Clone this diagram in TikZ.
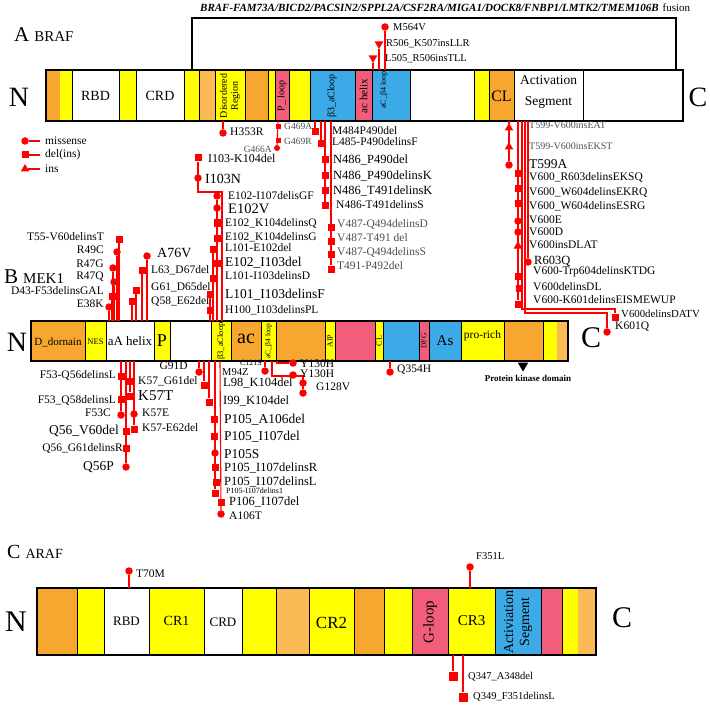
\documentclass[tikz,border=0pt]{standalone}
\usepackage{fontspec}
\setmainfont{Liberation Serif}
\usetikzlibrary{shapes.geometric}
\definecolor{cOr}{RGB}{247,166,48}
\definecolor{cOl}{RGB}{251,186,86}
\definecolor{cYe}{RGB}{255,255,0}
\definecolor{cPk}{RGB}{241,93,122}
\definecolor{cBl}{RGB}{60,170,230}
\definecolor{cRd}{RGB}{255,0,0}
\definecolor{cGr}{RGB}{70,80,80}
\begin{document}
\begin{tikzpicture}[x=1pt,y=-1pt,
 stemline/.style={draw=cRd,line width=1.1pt},
 mkc/.style={circle,fill=cRd,inner sep=0pt,minimum size=7.5pt},
 mks/.style={rectangle,fill=cRd,inner sep=0pt,minimum size=7pt},
 mkss/.style={rectangle,fill=cRd,inner sep=0pt,minimum size=5pt},
 mkt/.style={regular polygon,regular polygon sides=3,fill=cRd,inner sep=0pt,minimum size=10pt},
 mkv/.style={mkt,shape border rotate=180},
 divl/.style={draw=black,line width=0.6pt},
 barl/.style={draw=black,line width=1.3pt},
 lab/.style={inner sep=0pt,anchor=west,font=\fontsize{11.5}{12}\selectfont},
 labB/.style={lab,font=\fontsize{13.5}{14}\selectfont},
 labM/.style={lab,font=\fontsize{12.5}{13}\selectfont},
 labS/.style={lab,font=\fontsize{9.5}{10}\selectfont},
 labT/.style={lab,font=\fontsize{8}{9}\selectfont},
 labE/.style={anchor=east},
 dom/.style={inner sep=0pt,font=\fontsize{13}{14}\selectfont},
 rdom/.style={inner sep=0pt,rotate=90,align=center,font=\fontsize{9.5}{10.5}\selectfont},
 bigl/.style={inner sep=0pt,font=\fontsize{28}{28}\selectfont}
]
\useasboundingbox (0,0) rectangle (709,711);

% ================= A BRAF =================
\node[anchor=west,inner sep=0pt] (hA) at (14,35) {\fontsize{21}{21}\selectfont A\hspace{5pt}\fontsize{15}{15}\selectfont BRAF};
\node[anchor=west,inner sep=0pt,font=\fontsize{11}{12}\selectfont] (title) at (200,8) {\textbf{\textit{BRAF-FAM73A/BICD2/PACSIN2/SPPL2A/CSF2RA/MIGA1/DOCK8/FNBP1/LMTK2/TMEM106B}}\hspace{4pt}fusion};
\draw[barl] (192,70) -- (192,18) -- (676,18) -- (676,70);

\foreach \a/\b/\c in {46/60/cOr,60/72/cYe,72/119/white,119/136/cYe,136/184/white,184/199/cYe,199/215/cOl,215/245/cYe,245/268/cOr,268/275/cYe,275/289/cPk,289/310/cYe,310/355/cBl,355/372/cPk,372/410/cBl,410/474/white,474/489/cYe,489/514/cOr,514/583/white,583/683/white}
  \fill[\c] (\a,70) rectangle (\b,121);
\foreach \a in {72,119,136,184,199,215,245,268,275,289,310,355,372,410,474,489,514,583}
  \draw[divl] (\a,70) -- (\a,121);
\draw[barl] (46,70) rectangle (683,121);

\node[bigl] (bN) at (19,97) {N};
\node[bigl] (bC) at (698,97) {C};
\node[dom,font=\fontsize{14}{14}\selectfont] (bRBD) at (95.5,96) {RBD};
\node[dom,font=\fontsize{14}{14}\selectfont] (bCRD) at (160,96) {CRD};
\node[rdom,font=\fontsize{10}{11}\selectfont] (bDis) at (230,96) {Disordered\\Region};
\node[rdom,font=\fontsize{10}{11}\selectfont] (bPl) at (282,96) {P\_ loop};
\node[rdom,font=\fontsize{10}{11}\selectfont] (bB3) at (332,96) {β3\_aCloop};
\node[rdom,font=\fontsize{11}{12}\selectfont] (bAch) at (363.5,96) {ac helix};
\node[rdom,font=\fontsize{8}{9}\selectfont] (bAcb) at (384,90) {aC\_β4 loop};
\node[dom,font=\fontsize{16}{16}\selectfont] (bCL) at (501.5,96) {CL};
\node[dom,align=center,font=\fontsize{13.5}{21}\selectfont] (bAS) at (548.5,92) {Activation\\Segment};

% mutations above BRAF (fusion)
\node[mkc] (m564) at (385,27) {};
\node[mkv] (r506) at (379,44) {};
\node[mkv] (l505) at (373,58) {};
\draw[stemline] (385,70) -- (m564);
\draw[stemline] (379,70) -- (r506);
\draw[stemline] (373,70) -- (l505);
\node[lab,font=\fontsize{10.5}{11}\selectfont] (tm564) at (393,27) {M564V};
\node[lab,font=\fontsize{10.5}{11}\selectfont] (tr506) at (386,44) {R506\_K507insLLR};
\node[lab,font=\fontsize{10.5}{11}\selectfont] (tl505) at (385,59) {L505\_R506insTLL};

% legend
\node[mkc] (lg1) at (25,141) {};
\node[mks] (lg2) at (25,155) {};
\node[mkt] (lg3) at (25,169) {};
\coordinate (lg1e) at (40,141);
\coordinate (lg2e) at (40,155);
\coordinate (lg3e) at (40,169);
\draw[stemline] (lg1) -- (lg1e);
\draw[stemline] (lg2) -- (lg2e);
\draw[stemline] (lg3) -- (lg3e);
\node[lab] (tlg1) at (45,141) {missense};
\node[lab] (tlg2) at (45,155) {del(ins)};
\node[lab] (tlg3) at (45,169) {ins};

% below BRAF
\node[mkc] (h353) at (223,133) {};
\draw[stemline] (223,121) -- (h353);
\node[lab] (th353) at (230,132) {H353R};

\node[mkss] (g469a) at (278,127) {};
\node[mkss] (g469r) at (278,141) {};
\node[mkc,minimum size=6pt] (g466a) at (277,148) {};
\draw[stemline] (278,121) -- (g466a);
\node[labS,text=cGr] (tg469a) at (284,126) {G469A};
\node[labS,text=cGr] (tg469r) at (284,141) {G469R};
\node[labS,labE,text=cGr] (tg466a) at (272,149) {G466A};

\node[mks] (m484) at (315,132) {};
\draw[stemline] (315,121) -- (m484);
\node[lab] (tm484) at (332,131) {M484P490del};
\node[mks] (l485) at (321,144) {};
\draw[stemline] (321,121) -- (l485);
\node[lab] (tl485) at (332,142) {L485-P490delinsF};

\node[mks] (n486a) at (325,160) {};
\node[mks] (n486b) at (325,176) {};
\node[mks] (n486c) at (325,191) {};
\node[mks] (n486d) at (325,206) {};
\draw[stemline] (325,121) -- (n486d);
\node[labM] (tn486a) at (333,160) {N486\_P490del};
\node[labM] (tn486b) at (333,176) {N486\_P490delinsK};
\node[labM] (tn486c) at (333,191) {N486\_T491delinsK};
\node[lab] (tn486d) at (336,205) {N486-T491delinsS};

\node[mks] (v487a) at (331,227) {};
\node[mks] (v487b) at (331,241) {};
\node[mks] (v487c) at (331,254) {};
\node[mks] (t491) at (331,269) {};
\draw[stemline] (331,121) -- (t491);
\node[lab,text=cGr] (tv487a) at (337,224) {V487-Q494delinsD};
\node[lab,text=cGr] (tv487b) at (337,238) {V487-T491 del};
\node[lab,text=cGr] (tv487c) at (337,252) {V487-Q494delinsS};
\node[lab,text=cGr] (tt491) at (337,266) {T491-P492del};

% V600 region
\node[mkt] (t599a) at (509,128) {};
\node[mkt] (t599b) at (509,147) {};
\node[mkc] (t599c) at (509,165) {};
\draw[stemline] (509,121) -- (t599c);
\node[labS,font=\fontsize{10}{11}\selectfont,text=cGr] (tt599a) at (529,125) {T599-V600insEAT};
\node[labS,font=\fontsize{10}{11}\selectfont,text=cGr] (tt599b) at (529,146) {T599-V600insEKST};
\node[labB] (tt599c) at (529,164) {T599A};

\node[mks] (v1) at (518,174) {};
\node[mks] (v2) at (518,189) {};
\node[mks] (v3) at (518,204) {};
\node[mkc] (v4) at (518,221) {};
\node[mkc] (v5) at (518,232) {};
\node[mkt] (v6) at (518,246) {};
\node[mks] (v7) at (518,276) {};
\node[mks] (v8) at (519,288) {};
\node[mks] (v9) at (518,304) {};
\draw[stemline] (518,121) -- (v9);
\node[lab] (tv1) at (529,177) {V600\_R603delinsEKSQ};
\node[lab] (tv2) at (529,192) {V600\_W604delinsEKRQ};
\node[lab] (tv3) at (529,206) {V600\_W604delinsESRG};
\node[lab] (tv4) at (529,220) {V600E};
\node[lab] (tv5) at (529,232) {V600D};
\node[lab] (tv6) at (529,245) {V600insDLAT};
\node[lab] (tv7) at (533,272) {V600-Trp604delinsKTDG};
\node[lab] (tv8) at (533,287) {V600delinsDL};
\node[lab] (tv9) at (533,300) {V600-K601delinsEISMEWUP};

\node[mkc] (r603) at (528,262) {};
\draw[stemline] (528,121) -- (r603);
\node[labM] (tr603) at (534,261) {R603Q};

\node[mks] (datv) at (615,317) {};
\draw[stemline] (522,121) -- (522,309) -- (615,309) -- (datv);
\node[lab,font=\fontsize{10.8}{11}\selectfont] (tdatv) at (621,314) {V600delinsDATV};
\node[mkc] (k601) at (607,332) {};
\draw[stemline] (525,121) -- (525,313) -- (607,313) -- (k601);
\node[lab] (tk601) at (615,327) {K601Q};

% ================= B MEK1 =================
\node[anchor=west,inner sep=0pt] (hB) at (4,277) {\fontsize{21}{21}\selectfont B\hspace{5pt}\fontsize{15}{15}\selectfont MEK1};

\foreach \a/\b/\c in {31/85/cOr,85/106/cYe,106/154/white,154/170/cYe,170/211/white,211/231/cYe,231/261/cOr,261/276/cYe,276/325/cOr,325/335/cYe,335/375/cPk,375/383/cYe,383/419/cBl,419/429/cPk,429/461/cBl,461/504/cYe,504/543/cOr,543/557/cYe,557/568/cOl}
  \fill[\c] (\a,321) rectangle (\b,361);
\foreach \a in {85,106,154,170,211,231,261,276,325,335,375,383,419,429,461,504,543}
  \draw[divl] (\a,321) -- (\a,361);
\draw[barl] (31,321) rectangle (568,361);

\node[bigl] (mN) at (17,342) {N};
\node[bigl,font=\fontsize{30}{30}\selectfont] (mC) at (591,338) {C};
\node[dom,font=\fontsize{11}{12}\selectfont] (mDd) at (58,342) {D\_dornain};
\node[dom,font=\fontsize{8.5}{9}\selectfont] (mNES) at (95.5,342) {NES};
\node[dom,font=\fontsize{13}{14}\selectfont] (mAh) at (130,341) {aA helix};
\node[dom,font=\fontsize{18}{18}\selectfont] (mP) at (162,341) {P};
\node[rdom,font=\fontsize{8.5}{9}\selectfont] (mB3) at (221,341) {β3\_aCloop};
\node[dom,font=\fontsize{20}{20}\selectfont] (mAc) at (246,339) {ac};
\node[rdom,font=\fontsize{7.5}{8}\selectfont] (mAcb) at (268.5,341) {aC\_β4 loop};
\node[rdom,font=\fontsize{8}{9}\selectfont] (mAIP) at (330,341) {AIP};
\node[rdom,font=\fontsize{8}{9}\selectfont] (mCL) at (379,341) {CL};
\node[rdom,font=\fontsize{7.5}{8}\selectfont] (mDFG) at (424,341) {DFG};
\node[dom,font=\fontsize{15}{15}\selectfont] (mAs) at (445,341) {As};
\node[dom,font=\fontsize{11.5}{12}\selectfont] (mPr) at (482.5,336) {pro-rich};

\node[isosceles triangle,isosceles triangle apex angle=60,shape border rotate=270,fill=black,inner sep=0pt,minimum height=9pt,minimum width=9pt,anchor=apex] (pkd) at (523,372) {};
\node[inner sep=0pt,font=\bfseries\fontsize{9}{10}\selectfont] (tpkd) at (528,378) {Protein kinase domain};

% above MEK1, left
\node[mks] (t55) at (119,239) {};
\node[mkc] (r49c) at (117,252) {};
\node[mkc] (r47g) at (113,268) {};
\node[mkc] (r47q) at (114,282) {};
\node[mks] (d43) at (112,296) {};
\node[mkc] (e38k) at (109,307) {};
\foreach \n/\x in {t55/119,r49c/117,r47g/113,r47q/114,d43/112,e38k/109}
  \draw[stemline] (\x,321) -- (\n);
\node[lab,labE] (tt55) at (104,237) {T55-V60delinsT};
\node[lab,labE] (tr49c) at (104,250) {R49C};
\node[lab,labE] (tr47g) at (104,264) {R47G};
\node[lab,labE] (tr47q) at (104,277) {R47Q};
\node[lab,labE] (td43) at (104,291) {D43-F53delinsGAL};
\node[lab,labE] (te38k) at (104,304) {E38K};

\node[mkc] (a76v) at (147,256) {};
\node[mks] (l63) at (142,270) {};
\node[mks] (g61) at (136,290) {};
\node[mks] (q58) at (132,301) {};
\foreach \n/\x in {a76v/147,l63/142,g61/136,q58/132}
  \draw[stemline] (\x,321) -- (\n);
\node[labB,font=\fontsize{14}{14}\selectfont] (ta76v) at (157,253) {A76V};
\node[lab] (tl63) at (151,270) {L63\_D67del};
\node[lab] (tg61) at (151,287) {G61\_D65del};
\node[lab] (tq58) at (151,301) {Q58\_E62del};

% above MEK1, E102 / I103 group
\node[mks] (i103a) at (198,158) {};
\node[mkc] (i103n) at (198,178) {};
\draw[stemline] (222,321) -- (222,192) -- (198,192) -- (i103a);
\node[labM,font=\fontsize{12}{13}\selectfont] (ti103a) at (208,158) {I103-K104del};
\node[labB,font=\fontsize{14}{14}\selectfont] (ti103n) at (205,179) {I103N};

\node[mkc] (e1) at (217,196) {};
\node[mkc] (e2) at (217,208) {};
\node[mks] (e3) at (217,223) {};
\node[mks] (e4) at (217,238) {};
\node[mks] (e6) at (217,263) {};
\draw[stemline] (217,321) -- (e1);
\node[mks] (e5) at (213,249) {};
\node[mks] (e7) at (213,278) {};
\draw[stemline] (213,321) -- (e5);
\node[mks] (e8) at (210,294) {};
\node[mks] (e9) at (210,310) {};
\draw[stemline] (210,321) -- (e8);
\node[lab] (te1) at (228,196) {E102-I107delisGF};
\node[labB,font=\fontsize{14.5}{15}\selectfont] (te2) at (228,209) {E102V};
\node[lab] (te3) at (225,223) {E102\_K104delinsQ};
\node[lab] (te4) at (225,237) {E102\_K104delinsG};
\node[lab] (te5) at (225,248) {L101-E102del};
\node[labB] (te6) at (225,263) {E102\_I103del};
\node[lab] (te7) at (225,276) {L101-I103delinsD};
\node[labB] (te8) at (225,295) {L101\_I103delinsF};
\node[lab] (te9) at (225,310) {H100\_I103delinsPL};

% below MEK1, left
\node[mks] (f53a) at (121,376) {};
\node[mks] (f53b) at (121,399) {};
\node[mkc] (f53c) at (121,415) {};
\draw[stemline] (121,361) -- (f53c);
\node[lab,labE] (tf53a) at (116,375) {F53-Q56delinsL};
\node[lab,labE] (tf53b) at (116,400) {F53\_Q58delinsL};
\node[lab,labE] (tf53c) at (111,413) {F53C};

\node[mks] (q56a) at (126,431) {};
\node[mks] (q56b) at (126,448) {};
\node[mkc] (q56p) at (126,467) {};
\draw[stemline] (126,361) -- (q56p);
\node[labB,labE] (tq56a) at (119,431) {Q56\_V60del};
\node[lab,labE] (tq56b) at (123,448) {Q56\_G61delinsR};
\node[labB,labE] (tq56p) at (114,467) {Q56P};

\node[mks] (k57a) at (130,381) {};
\node[mks] (k57t) at (130,396) {};
\draw[stemline] (130,361) -- (k57t);
\node[mkc] (k57e) at (134,414) {};
\node[mks] (k57b) at (134,429) {};
\draw[stemline] (134,361) -- (k57b);
\node[lab] (tk57a) at (138,381) {K57\_G61del};
\node[labB,font=\fontsize{15}{15}\selectfont] (tk57t) at (138,396) {K57T};
\node[lab] (tk57e) at (142,413) {K57E};
\node[lab] (tk57b) at (142,428) {K57-E62del};

% below MEK1, middle
\node[mkc] (g91d) at (199,372) {};
\draw[stemline] (199,361) -- (g91d);
\node[lab,labE] (tg91d) at (188,366) {G91D};
\node[lab,font=\fontsize{10.5}{11}\selectfont] (tm94) at (222,372) {M94Z};
\node[mks] (l98) at (204,385) {};
\draw[stemline] (204,361) -- (l98);
\node[labM] (tl98) at (223,383) {L98\_K104del};
\node[mks] (i99) at (209,402) {};
\draw[stemline] (209,361) -- (i99);
\node[labM] (ti99) at (223,401) {I99\_K104del};

\node[mks] (p1) at (214,419) {};
\node[mks] (p2) at (214,436) {};
\node[mkc] (p3) at (215,453) {};
\node[mks] (p4) at (215,467) {};
\node[mks] (p5) at (216,482) {};
\node[mks] (p6) at (215,493) {};
\draw[stemline] (215,361) -- (p6);
\node[labB] (tp1) at (224,420) {P105\_A106del};
\node[labB] (tp2) at (224,437) {P105\_I107del};
\node[labB] (tp3) at (224,454) {P105S};
\node[labM] (tp4) at (224,468) {P105\_I107delinsR};
\node[labM] (tp5) at (224,482) {P105\_I107delinsL};
\node[labT] (tp6) at (226,491) {P105-I107delins1};
\node[mks] (p7) at (221,502) {};
\node[mkc] (a106) at (221,514) {};
\draw[stemline] (220,361) -- (a106);
\node[labM] (tp7) at (229,502) {P106\_I107del};
\node[lab] (ta106) at (229,516) {A106T};

\node[mkc] (c121) at (265,371) {};
\draw[stemline] (265,361) -- (c121);
\node[labT,labE] (tc121) at (262,363) {C121S};

\node[mkc] (y130a) at (293,363) {};
\draw[stemline] (277,361) -- (277,363) -- (y130a);
\node[lab] (ty130a) at (300,364) {Y130H};
\node[mkc] (y130b) at (293,375) {};
\node[mkc] (g128a) at (303,383) {};
\node[mkc] (g128b) at (303,393) {};
\draw[stemline] (272,361) -- (272,376) -- (303,376) -- (g128b);
\node[lab] (ty130b) at (300,374) {Y130H};
\node[lab] (tg128) at (316,387) {G128V};

\node[mkc] (q354) at (390,372) {};
\draw[stemline] (390,361) -- (q354);
\node[lab] (tq354) at (397,370) {Q354H};

% ================= C ARAF =================
\node[anchor=west,inner sep=0pt] (hC) at (7,552) {\fontsize{20}{20}\selectfont C\hspace{5pt}\fontsize{14}{14}\selectfont ARAF};

\foreach \a/\b/\c in {37/77/cOr,77/104/cYe,104/149/white,149/204/cYe,204/242/white,242/276/cYe,276/309/cOl,309/354/cYe,354/384/cOr,384/412/cYe,412/448/cPk,448/495/cYe,495/541/cBl,541/562/cPk,562/578/cYe,578/596/cOl}
  \fill[\c] (\a,588) rectangle (\b,655);
\foreach \a in {77,104,149,204,242,276,309,354,384,412,448,495,541,562}
  \draw[divl] (\a,588) -- (\a,655);
\draw[barl] (37,588) rectangle (596,655);

\node[bigl,font=\fontsize{30}{30}\selectfont] (aN) at (16,622) {N};
\node[bigl,font=\fontsize{30}{30}\selectfont] (aC) at (622,618) {C};
\node[dom] (aRBD) at (126.5,621) {RBD};
\node[dom,font=\fontsize{14}{14}\selectfont] (aCR1) at (176.5,621) {CR1};
\node[dom] (aCRD) at (223,622) {CRD};
\node[dom,font=\fontsize{17}{17}\selectfont] (aCR2) at (331.5,623) {CR2};
\node[rdom,font=\fontsize{15}{15}\selectfont] (aGl) at (430,622) {G-loop};
\node[dom,font=\fontsize{15}{15}\selectfont] (aCR3) at (471.5,621) {CR3};
\node[rdom,font=\fontsize{14}{16}\selectfont] (aAS) at (518,622) {Activiation\\Segment};

\node[mkc] (t70m) at (129,571) {};
\draw[stemline] (129,588) -- (t70m);
\node[lab] (tt70m) at (136,574) {T70M};
\node[mkc] (f351) at (470,567) {};
\draw[stemline] (470,588) -- (f351);
\node[lab,font=\fontsize{10.5}{11}\selectfont] (tf351) at (476,556) {F351L};
\node[mks,minimum size=9pt] (q347) at (453,676) {};
\draw[stemline] (453,655) -- (q347);
\node[lab,font=\fontsize{10.5}{11}\selectfont] (tq347) at (468,677) {Q347\_A348del};
\node[mks,minimum size=9pt] (q349) at (463,697) {};
\draw[stemline] (463,655) -- (q349);
\node[lab,font=\fontsize{10.5}{11}\selectfont] (tq349) at (473,697) {Q349\_F351delinsL};
\end{tikzpicture}
\end{document}
